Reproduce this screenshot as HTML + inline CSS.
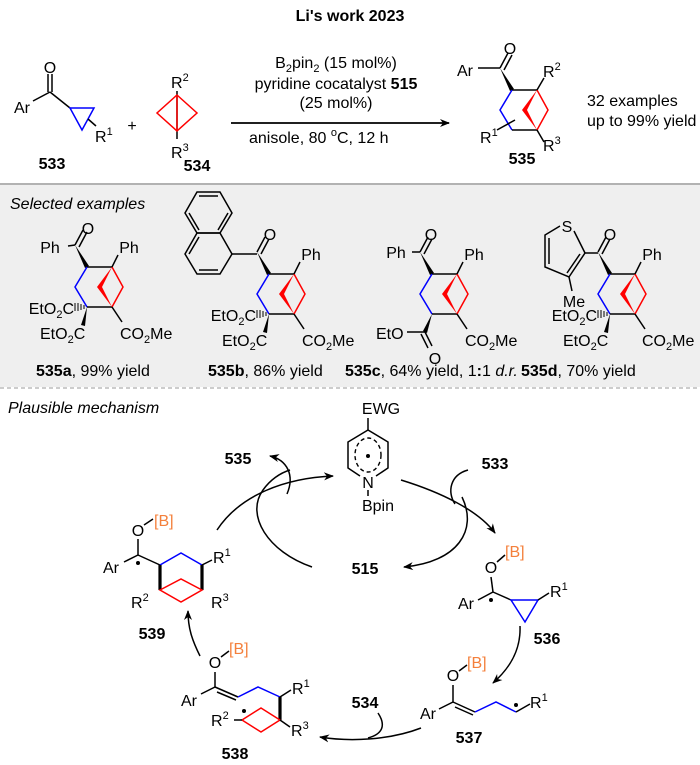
<!DOCTYPE html>
<html><head><meta charset="utf-8"><style>
html,body{margin:0;padding:0;background:#fff}
svg{display:block}
text{font-family:"Liberation Sans",Arial,sans-serif;font-size:16px;fill:#000}
.b{font-weight:bold}
.o{fill:#f4803c}
.s{font-size:11px}
</style></head><body>
<svg width="700" height="765" viewBox="0 0 700 765" xmlns="http://www.w3.org/2000/svg">
<defs>
<marker id="ah" viewBox="0 0 10 10" refX="9" refY="5" markerWidth="10" markerHeight="10" orient="auto-start-reverse" markerUnits="userSpaceOnUse">
<path d="M0,1 L10,5 L0,9 L3,5 Z" fill="#000"/></marker>
<g id="core">
 <line x1="-37" y1="-22" x2="-29" y2="-37" stroke="#000" stroke-width="1.5"/>
 <line x1="-33" y1="-20" x2="-25" y2="-35" stroke="#000" stroke-width="1.5"/>
 <polygon points="-37,-22 -27,1 -23,-1" fill="#000"/>
 <line x1="-25" y1="0" x2="0" y2="0" stroke="#000" stroke-width="1.6"/>
 <polyline points="-25,0 -37,20 -25,40" fill="none" stroke="#0000ff" stroke-width="1.5"/>
 <line x1="-25" y1="40" x2="0" y2="40" stroke="#000" stroke-width="1.6"/>
 <polyline points="0,0 11,20 0,40" fill="none" stroke="#ff0000" stroke-width="1.5"/>
 <polygon points="0,0 -15,20 0,40 -10,20" fill="#ff0000"/>
</g>
</defs>

<text x="350" y="21" text-anchor="middle" class="b">Li's work 2023</text>

<!-- 533 -->
<text x="22" y="113" text-anchor="middle">Ar</text>
<line x1="33" y1="101" x2="50" y2="92" stroke="#000" stroke-width="1.5"/>
<line x1="48" y1="92" x2="48" y2="74" stroke="#000" stroke-width="1.5"/>
<line x1="52" y1="92" x2="52" y2="74" stroke="#000" stroke-width="1.5"/>
<text x="50" y="73" text-anchor="middle">O</text>
<line x1="50" y1="92" x2="70" y2="108" stroke="#000" stroke-width="1.5"/>
<polygon points="70,108 94,108 82,130" fill="none" stroke="#0000ff" stroke-width="1.5"/>
<line x1="88" y1="119" x2="96" y2="126" stroke="#000" stroke-width="1.5"/>
<text x="95" y="142">R<tspan class="s" dy="-7">1</tspan></text>
<text x="52" y="169" text-anchor="middle" class="b">533</text>
<text x="132" y="131" text-anchor="middle">+</text>

<!-- 534 -->
<text x="171" y="88">R<tspan class="s" dy="-7">2</tspan></text>
<line x1="177" y1="91" x2="177" y2="139" stroke="#000" stroke-width="1.5"/>
<polygon points="177,95 197,113 177,131 157,113" fill="none" stroke="#ff0000" stroke-width="1.5"/>
<line x1="177" y1="95" x2="177" y2="131" stroke="#ff0000" stroke-width="1.5"/>
<text x="171" y="158">R<tspan class="s" dy="-7">3</tspan></text>
<text x="197" y="171" text-anchor="middle" class="b">534</text>

<!-- conditions -->
<text x="336" y="68" text-anchor="middle">B<tspan class="s" dy="4">2</tspan><tspan dy="-4">pin</tspan><tspan class="s" dy="4">2</tspan><tspan dy="-4"> (15 mol%)</tspan></text>
<text x="336" y="89" text-anchor="middle">pyridine cocatalyst <tspan class="b">515</tspan></text>
<text x="336" y="108" text-anchor="middle">(25 mol%)</text>
<line x1="231" y1="123" x2="449" y2="123" stroke="#000" stroke-width="1.8" marker-end="url(#ah)"/>
<text x="249" y="143">anisole, 80 <tspan class="s" dy="-7">o</tspan><tspan dy="7">C, 12 h</tspan></text>

<!-- 535 -->
<g transform="translate(537,90)"><use href="#core"/>
 <line x1="0" y1="0" x2="7" y2="-12" stroke="#000" stroke-width="1.5"/>
 <line x1="0" y1="40" x2="7" y2="52" stroke="#000" stroke-width="1.5"/>
</g>
<text x="510" y="54" text-anchor="middle">O</text>
<line x1="478" y1="68" x2="500" y2="68" stroke="#000" stroke-width="1.5"/>
<text x="465" y="76" text-anchor="middle">Ar</text>
<text x="543" y="77">R<tspan class="s" dy="-7">2</tspan></text>
<text x="543" y="151">R<tspan class="s" dy="-7">3</tspan></text>
<line x1="497" y1="130" x2="515" y2="120" stroke="#000" stroke-width="1.5"/>
<text x="480" y="143">R<tspan class="s" dy="-7">1</tspan></text>
<text x="522" y="164" text-anchor="middle" class="b">535</text>
<text x="587" y="106">32 examples</text>
<text x="587" y="126">up to 99% yield</text>

<line x1="0" y1="184" x2="700" y2="184" stroke="#999" stroke-width="1.5"/>
<rect x="0" y="185" width="700" height="202" fill="#efefef"/>
<line x1="0" y1="388" x2="700" y2="388" stroke="#999" stroke-width="1" stroke-dasharray="4,3"/>

<text x="10" y="209" font-style="italic">Selected examples</text>

<!-- 535a -->
<g transform="translate(112,267)"><use href="#core"/>
 <line x1="0" y1="0" x2="6" y2="-12" stroke="#000" stroke-width="1.5"/>
 <line x1="0" y1="40" x2="10" y2="55" stroke="#000" stroke-width="1.5"/>
 <g stroke="#000" stroke-width="1"><line x1="-28" y1="38" x2="-28" y2="42"/><line x1="-31" y1="37" x2="-31" y2="43"/><line x1="-34" y1="36" x2="-34" y2="44"/><line x1="-37" y1="36" x2="-37" y2="44"/></g>
 <polygon points="-25,40 -31,58 -27,59" fill="#000"/>
</g>
<text x="88" y="234" text-anchor="middle">O</text>
<line x1="68" y1="246" x2="75" y2="245" stroke="#000" stroke-width="1.5"/>
<text x="50" y="253" text-anchor="middle">Ph</text>
<text x="129" y="253" text-anchor="middle">Ph</text>
<text x="74" y="314" text-anchor="end">EtO<tspan class="s" dy="4">2</tspan><tspan dy="-4">C</tspan></text>
<text x="40" y="339">EtO<tspan class="s" dy="4">2</tspan><tspan dy="-4">C</tspan></text>
<text x="120" y="339">CO<tspan class="s" dy="4">2</tspan><tspan dy="-4">Me</tspan></text>
<text x="36" y="376"><tspan class="b">535a</tspan>, 99% yield</text>

<!-- 535b -->
<g transform="translate(294,274)"><use href="#core"/>
 <line x1="0" y1="0" x2="6" y2="-12" stroke="#000" stroke-width="1.5"/>
 <line x1="0" y1="40" x2="10" y2="55" stroke="#000" stroke-width="1.5"/>
 <g stroke="#000" stroke-width="1"><line x1="-28" y1="38" x2="-28" y2="42"/><line x1="-31" y1="37" x2="-31" y2="43"/><line x1="-34" y1="36" x2="-34" y2="44"/><line x1="-37" y1="36" x2="-37" y2="44"/></g>
 <polygon points="-25,40 -31,58 -27,59" fill="#000"/>
</g>
<text x="270" y="240" text-anchor="middle">O</text>
<text x="311" y="260" text-anchor="middle">Ph</text>
<line x1="232" y1="254" x2="257" y2="254" stroke="#000" stroke-width="1.5"/>
<g fill="none" stroke="#000" stroke-width="1.5">
 <polygon points="197,192 220,192 232,213 220,233 197,233 185,213"/>
 <polygon points="197,233 220,233 232,254 220,274 197,274 185,254"/>
 <line x1="199" y1="196" x2="218" y2="196"/><line x1="189" y1="213" x2="199" y2="230"/><line x1="228" y1="213" x2="218" y2="230"/>
 <line x1="189" y1="254" x2="199" y2="237"/><line x1="199" y1="270" x2="218" y2="270"/>
</g>
<text x="256" y="321" text-anchor="end">EtO<tspan class="s" dy="4">2</tspan><tspan dy="-4">C</tspan></text>
<text x="222" y="346">EtO<tspan class="s" dy="4">2</tspan><tspan dy="-4">C</tspan></text>
<text x="302" y="346">CO<tspan class="s" dy="4">2</tspan><tspan dy="-4">Me</tspan></text>
<text x="208" y="376"><tspan class="b">535b</tspan>, 86% yield</text>

<!-- 535c -->
<g transform="translate(457,274)"><use href="#core"/>
 <line x1="0" y1="0" x2="6" y2="-12" stroke="#000" stroke-width="1.5"/>
 <line x1="0" y1="40" x2="10" y2="55" stroke="#000" stroke-width="1.5"/>
 <polygon points="-25,40 -34,57 -30,59" fill="#000"/>
 <line x1="-32" y1="58" x2="-50" y2="58" stroke="#000" stroke-width="1.5"/>
 <line x1="-32" y1="58" x2="-25" y2="72" stroke="#000" stroke-width="1.5"/>
 <line x1="-36" y1="60" x2="-29" y2="74" stroke="#000" stroke-width="1.5"/>
</g>
<text x="431" y="240" text-anchor="middle">O</text>
<line x1="412" y1="252" x2="420" y2="252" stroke="#000" stroke-width="1.5"/>
<text x="396" y="258" text-anchor="middle">Ph</text>
<text x="474" y="260" text-anchor="middle">Ph</text>
<text x="376" y="339">EtO</text>
<text x="435" y="364" text-anchor="middle">O</text>
<text x="465" y="346">CO<tspan class="s" dy="4">2</tspan><tspan dy="-4">Me</tspan></text>
<text x="345" y="376" font-size="14.6"><tspan class="b">535c</tspan>, 64% yield, 1<tspan class="b">:</tspan>1 <tspan font-style="italic">d.r.</tspan></text>

<!-- 535d -->
<g transform="translate(635,274)"><use href="#core"/>
 <line x1="0" y1="0" x2="6" y2="-12" stroke="#000" stroke-width="1.5"/>
 <line x1="0" y1="40" x2="10" y2="55" stroke="#000" stroke-width="1.5"/>
 <g stroke="#000" stroke-width="1"><line x1="-28" y1="38" x2="-28" y2="42"/><line x1="-31" y1="37" x2="-31" y2="43"/><line x1="-34" y1="36" x2="-34" y2="44"/><line x1="-37" y1="36" x2="-37" y2="44"/></g>
 <polygon points="-25,40 -31,58 -27,59" fill="#000"/>
</g>
<text x="610" y="240" text-anchor="middle">O</text>
<text x="652" y="260" text-anchor="middle">Ph</text>
<line x1="585" y1="253" x2="598" y2="253" stroke="#000" stroke-width="1.5"/>
<g fill="none" stroke="#000" stroke-width="1.5">
 <polyline points="574,231 585,253 569,277 545,267 545,235 560,226"/>
 <line x1="549" y1="238" x2="549" y2="264"/><line x1="580" y1="254" x2="567" y2="273"/>
 <line x1="569" y1="277" x2="572" y2="291"/>
</g>
<text x="567" y="232" text-anchor="middle">S</text>
<text x="574" y="307" text-anchor="middle">Me</text>
<text x="597" y="321" text-anchor="end">EtO<tspan class="s" dy="4">2</tspan><tspan dy="-4">C</tspan></text>
<text x="563" y="346">EtO<tspan class="s" dy="4">2</tspan><tspan dy="-4">C</tspan></text>
<text x="642" y="346">CO<tspan class="s" dy="4">2</tspan><tspan dy="-4">Me</tspan></text>
<text x="521" y="376"><tspan class="b">535d</tspan>, 70% yield</text>

<!-- mechanism -->
<text x="8" y="413" font-style="italic">Plausible mechanism</text>
<text x="381" y="414" text-anchor="middle">EWG</text>
<line x1="368" y1="418" x2="368" y2="430" stroke="#000" stroke-width="1.5"/>
<polyline points="360,476 348,468 348,442 368,430 388,442 388,468 376,476" fill="none" stroke="#000" stroke-width="1.5"/>
<ellipse cx="368" cy="455" rx="13" ry="17" fill="none" stroke="#000" stroke-width="1.4" stroke-dasharray="4,3"/>
<circle cx="368" cy="456" r="2" fill="#000"/>
<text x="368" y="488" text-anchor="middle">N</text>
<line x1="368" y1="490" x2="368" y2="496" stroke="#000" stroke-width="1.5"/>
<text x="378" y="511" text-anchor="middle">Bpin</text>
<text x="238" y="464" text-anchor="middle" class="b">535</text>
<text x="495" y="469" text-anchor="middle" class="b">533</text>
<text x="365" y="574" text-anchor="middle" class="b">515</text>

<g fill="none" stroke="#000" stroke-width="1.5">
 <path d="M217,530 C240,495 285,478 333,476" marker-end="url(#ah)"/>
 <path d="M287,494 C295,475 287,460 270,456" marker-end="url(#ah)"/>
 <path d="M312,567 C268,552 245,515 263,490 C270,480 280,473 290,470"/>
 <path d="M401,480 C440,492 478,510 495,533" marker-end="url(#ah)"/>
 <path d="M468,470 C450,475 447,492 455,504"/>
 <path d="M462,497 C478,530 458,562 404,567" marker-end="url(#ah)"/>
 <path d="M520,626 C521,650 510,668 493,683" marker-end="url(#ah)"/>
 <path d="M421,728 C390,740 350,742 320,737" marker-end="url(#ah)"/>
 <path d="M378,713 C386,725 383,734 368,738"/>
 <path d="M200,656 C192,640 188,628 188,611" marker-end="url(#ah)"/>
</g>

<!-- 539 -->
<text x="138" y="536" text-anchor="middle">O</text>
<line x1="144" y1="525" x2="153" y2="519" stroke="#000" stroke-width="1.5"/>
<text x="154" y="526" class="o">[B]</text>
<line x1="138" y1="539" x2="138" y2="555" stroke="#000" stroke-width="1.5"/>
<line x1="124" y1="562" x2="138" y2="555" stroke="#000" stroke-width="1.5"/>
<circle cx="138" cy="563" r="2" fill="#000"/>
<text x="111" y="573" text-anchor="middle">Ar</text>
<line x1="138" y1="555" x2="160" y2="565" stroke="#000" stroke-width="1.5"/>
<polyline points="160,565 181,553 202,565" fill="none" stroke="#0000ff" stroke-width="1.5"/>
<line x1="202" y1="565" x2="212" y2="560" stroke="#000" stroke-width="1.5"/>
<text x="213" y="563">R<tspan class="s" dy="-7">1</tspan></text>
<line x1="160" y1="565" x2="160" y2="590" stroke="#000" stroke-width="3.2"/>
<line x1="202" y1="565" x2="202" y2="590" stroke="#000" stroke-width="3.2"/>
<polygon points="160,590 181,579 202,590 181,602" fill="none" stroke="#ff0000" stroke-width="1.5"/>
<text x="131" y="608">R<tspan class="s" dy="-7">2</tspan></text>
<text x="211" y="608">R<tspan class="s" dy="-7">3</tspan></text>
<text x="152" y="639" text-anchor="middle" class="b">539</text>

<!-- 536 -->
<text x="491" y="573" text-anchor="middle">O</text>
<line x1="497" y1="562" x2="505" y2="555" stroke="#000" stroke-width="1.5"/>
<text x="505" y="557" class="o">[B]</text>
<line x1="491" y1="577" x2="493" y2="592" stroke="#000" stroke-width="1.5"/>
<line x1="478" y1="600" x2="493" y2="592" stroke="#000" stroke-width="1.5"/>
<circle cx="491" cy="600" r="2" fill="#000"/>
<text x="466" y="609" text-anchor="middle">Ar</text>
<line x1="493" y1="592" x2="511" y2="600" stroke="#000" stroke-width="1.5"/>
<polygon points="511,600 538,600 525,622" fill="none" stroke="#0000ff" stroke-width="1.5"/>
<line x1="538" y1="600" x2="549" y2="593" stroke="#000" stroke-width="1.5"/>
<text x="550" y="597">R<tspan class="s" dy="-7">1</tspan></text>
<text x="547" y="644" text-anchor="middle" class="b">536</text>

<!-- 537 -->
<text x="453" y="681" text-anchor="middle">O</text>
<line x1="459" y1="671" x2="467" y2="665" stroke="#000" stroke-width="1.5"/>
<text x="467" y="668" class="o">[B]</text>
<line x1="453" y1="685" x2="453" y2="702" stroke="#000" stroke-width="1.5"/>
<line x1="439" y1="709" x2="453" y2="702" stroke="#000" stroke-width="1.5"/>
<text x="428" y="719" text-anchor="middle">Ar</text>
<line x1="453" y1="702" x2="475" y2="712" stroke="#000" stroke-width="1.5"/>
<line x1="455" y1="707" x2="473" y2="715" stroke="#000" stroke-width="1.5"/>
<polyline points="475,712 496,702 516,712" fill="none" stroke="#0000ff" stroke-width="1.5"/>
<line x1="516" y1="712" x2="530" y2="704" stroke="#000" stroke-width="1.5"/>
<circle cx="516" cy="705" r="2" fill="#000"/>
<text x="530" y="708">R<tspan class="s" dy="-7">1</tspan></text>
<text x="469" y="743" text-anchor="middle" class="b">537</text>
<text x="365" y="708" text-anchor="middle" class="b">534</text>

<!-- 538 -->
<text x="215" y="668" text-anchor="middle">O</text>
<line x1="221" y1="657" x2="229" y2="651" stroke="#000" stroke-width="1.5"/>
<text x="229" y="654" class="o">[B]</text>
<line x1="215" y1="672" x2="215" y2="687" stroke="#000" stroke-width="1.5"/>
<line x1="201" y1="694" x2="215" y2="687" stroke="#000" stroke-width="1.5"/>
<text x="189" y="706" text-anchor="middle">Ar</text>
<line x1="215" y1="687" x2="238" y2="697" stroke="#000" stroke-width="1.5"/>
<line x1="217" y1="692" x2="236" y2="700" stroke="#000" stroke-width="1.5"/>
<polyline points="238,697 258,687 280,697" fill="none" stroke="#0000ff" stroke-width="1.5"/>
<line x1="280" y1="697" x2="291" y2="690" stroke="#000" stroke-width="1.5"/>
<text x="292" y="694">R<tspan class="s" dy="-7">1</tspan></text>
<line x1="280" y1="697" x2="280" y2="720" stroke="#000" stroke-width="3.2"/>
<polygon points="280,720 261,708 242,720 261,732" fill="none" stroke="#ff0000" stroke-width="1.5"/>
<line x1="234" y1="720" x2="242" y2="720" stroke="#000" stroke-width="1.5"/>
<circle cx="244" cy="711" r="2" fill="#000"/>
<text x="211" y="726">R<tspan class="s" dy="-7">2</tspan></text>
<line x1="280" y1="720" x2="290" y2="727" stroke="#000" stroke-width="1.5"/>
<text x="291" y="736">R<tspan class="s" dy="-7">3</tspan></text>
<text x="235" y="759" text-anchor="middle" class="b">538</text>
</svg>
</body></html>
